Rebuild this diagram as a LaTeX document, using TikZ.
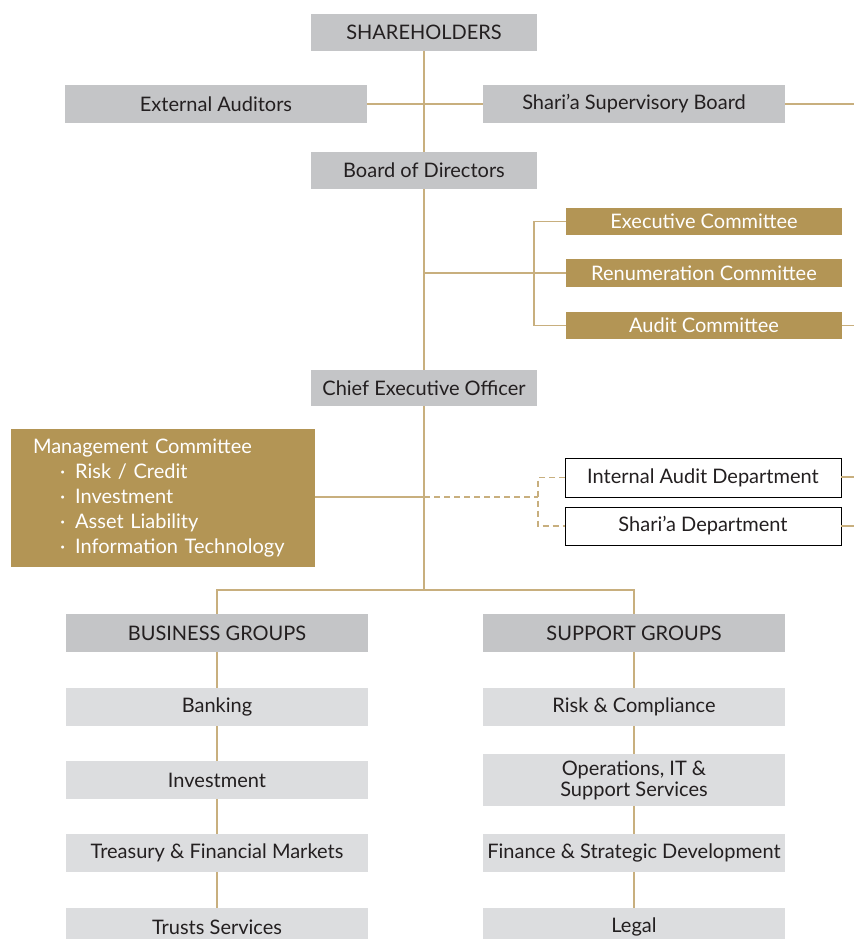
\documentclass[tikz,border=0pt]{standalone}
\usepackage{fontspec}
\setmainfont{Lato}
\definecolor{goldc}{HTML}{B39555}
\definecolor{hdrgray}{HTML}{C4C5C7}
\definecolor{lgray}{HTML}{DCDDDF}
\definecolor{linec}{HTML}{C8AF7E}
\definecolor{txt}{HTML}{231F20}
\tikzset{
 base/.style={inner sep=0pt, outer sep=0pt, font=\fontsize{20}{22}\selectfont, text=txt, align=center},
 hdr/.style={base, fill=hdrgray},
 lbox/.style={base, fill=lgray},
 goldbox/.style={base, fill=goldc, text=white},
 wbox/.style={base, draw=black, line width=1pt, fill=white},
 conn/.style={draw=linec, line width=1.3pt},
 dconn/.style={conn, dash pattern=on 6pt off 4pt}
}
\begin{document}
\begin{tikzpicture}[x=1pt,y=-1pt]
\useasboundingbox (0,0) rectangle (854,939);
% top
\node[hdr, minimum width=226pt, minimum height=37pt] (sh) at (424,32.5) {SHAREHOLDERS};
\node[hdr, minimum width=302pt, minimum height=38pt] (ext) at (216,104) {External Auditors};
\node[hdr, minimum width=302pt, minimum height=38pt] (ssb) at (634,104) {Shari'a Supervisory Board};
\node[hdr, minimum width=226pt, minimum height=37pt] (bod) at (424,170.5) {Board of Directors};
\node[goldbox, minimum width=276pt, minimum height=27pt] (exc) at (704,221.5) {Executive Committee};
\node[goldbox, minimum width=276pt, minimum height=28pt] (ren) at (704,273) {Renumeration Committee};
\node[goldbox, minimum width=276pt, minimum height=27pt] (aud) at (704,325.5) {Audit Committee};
\node[hdr, minimum width=226pt, minimum height=36pt] (ceo) at (424,388) {Chief Executive Officer};
\node[goldbox, minimum width=304pt, minimum height=138pt, text width=260pt, align=left, font=\fontsize{20}{25}\selectfont] (mgmt) at (163,498) {Management Committee\\
\hspace*{27pt}·\hspace{10pt}Risk / Credit\\
\hspace*{27pt}·\hspace{10pt}Investment\\
\hspace*{27pt}·\hspace{10pt}Asset Liability\\
\hspace*{27pt}·\hspace{10pt}Information Technology};
\node[wbox, minimum width=276pt, minimum height=39pt] (iad) at (703,477.5) {Internal Audit Department};
\node[wbox, minimum width=276pt, minimum height=38pt] (sd) at (703,526) {Shari'a Department};
% groups
\node[hdr, minimum width=302pt, minimum height=38pt] (bg) at (217,633) {BUSINESS GROUPS};
\node[hdr, minimum width=302pt, minimum height=38pt] (sg) at (634,633) {SUPPORT GROUPS};
\node[lbox, minimum width=302pt, minimum height=38pt] (bank) at (217,707) {Banking};
\node[lbox, minimum width=302pt, minimum height=38pt] (inv) at (217,780) {Investment};
\node[lbox, minimum width=302pt, minimum height=38pt] (tfm) at (217,853) {Treasury \& Financial Markets};
\node[lbox, minimum width=302pt, minimum height=38pt] (trs) at (217,927) {Trusts Services};
\node[lbox, minimum width=302pt, minimum height=38pt] (rc) at (634,707) {Risk \& Compliance};
\node[lbox, minimum width=302pt, minimum height=52pt, font=\fontsize{20}{21}\selectfont] (ops) at (634,780) {Operations, IT \&\\ Support Services};
\node[lbox, minimum width=302pt, minimum height=38pt] (fsd) at (634,853) {Finance \& Strategic Development};
\node[lbox, minimum width=302pt, minimum height=38pt] (legal) at (634,927) {Legal};
% coordinates
\coordinate (ssbR) at (854,104);
\coordinate (cb) at (424,273);
\coordinate (audR) at (854,325.5);
\coordinate (mj) at (424,497);
\coordinate (dj) at (538,497);
\coordinate (iadR) at (854,477);
\coordinate (sdR) at (854,526);
\coordinate (j) at (424,590);
% connectors
\draw[conn] (sh.south) -- (bod.north);
\draw[conn] (bod.south) -- (ceo.north);
\draw[conn] (ceo.south) -- (j);
\draw[conn] (ext.east) -- (ssb.west);
\draw[conn] (ssb.east) -- (ssbR);
\draw[conn] (cb) -- (ren.west);
\draw[conn] (exc.west) -- ++(-32,0) |- (aud.west);
\draw[conn] (aud.east) -- (audR);
\draw[conn] (mgmt.east |- mj) -- (mj);
\draw[dconn] (mj) -- (dj);
\draw[dconn] (iad.west) -- ++(-27,0) |- (sd.west);
\draw[conn] (iad.east |- iadR) -- (iadR);
\draw[conn] (sd.east) -- (sdR);
\draw[conn] (bg.north) |- (j) -| (sg.north);
\draw[conn] (bg.south) -- (bank.north);
\draw[conn] (bank.south) -- (inv.north);
\draw[conn] (inv.south) -- (tfm.north);
\draw[conn] (tfm.south) -- (trs.north);
\draw[conn] (sg.south) -- (rc.north);
\draw[conn] (rc.south) -- (ops.north);
\draw[conn] (ops.south) -- (fsd.north);
\draw[conn] (fsd.south) -- (legal.north);
\end{tikzpicture}
\end{document}
